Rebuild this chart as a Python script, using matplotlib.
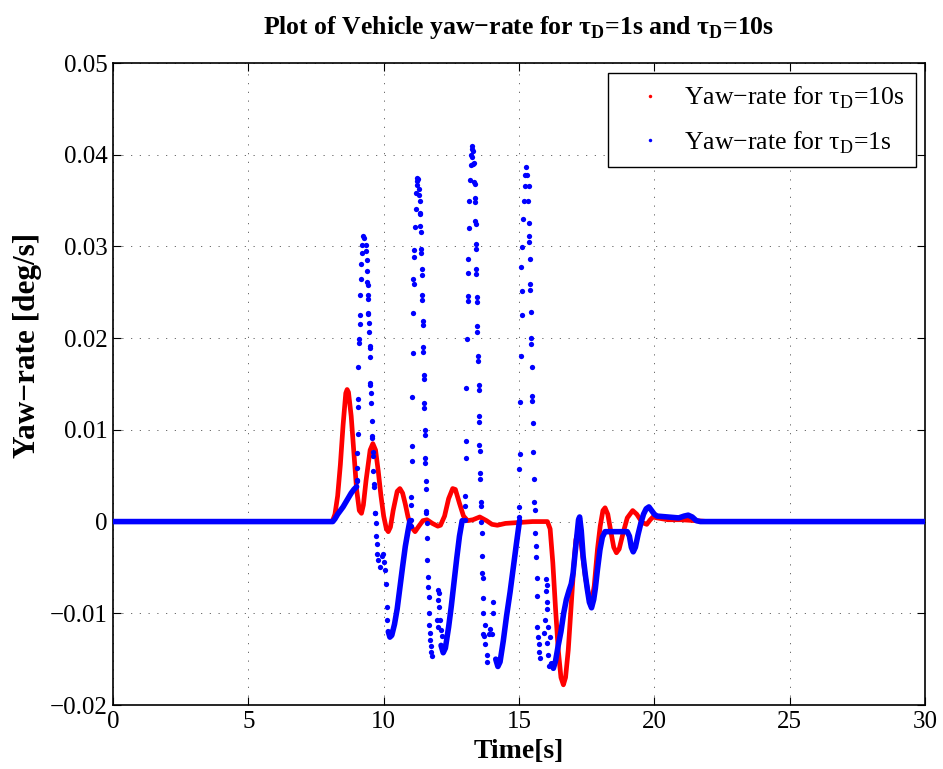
import matplotlib
matplotlib.use('Agg')
import matplotlib.pyplot as plt
from matplotlib.lines import Line2D

plt.rcParams['font.family'] = ['Liberation Serif', 'DejaVu Serif']
plt.rcParams['mathtext.fontset'] = 'custom'
plt.rcParams['mathtext.rm'] = 'Liberation Serif'
plt.rcParams['mathtext.bf'] = 'Liberation Serif:bold'

# yaw-rate for tau_D = 10 s (smooth response)
red_t = [0, 8.1, 8.2, 8.3, 8.4, 8.5, 8.6, 8.65, 8.7, 8.8, 8.9, 9.0, 9.1, 9.18, 9.25,
         9.35, 9.5, 9.6, 9.7, 9.8, 9.9, 10.0, 10.1, 10.17, 10.25, 10.35, 10.5, 10.6,
         10.7, 10.8, 10.9, 11.0, 11.16, 11.3, 11.45, 11.6, 11.8, 12.0, 12.1, 12.25,
         12.4, 12.55, 12.65, 12.8, 12.95, 13.1, 13.3, 13.55, 13.8, 14.0, 14.2, 14.5,
         15.0, 15.5, 16.05, 16.15, 16.25, 16.35, 16.45, 16.55, 16.64, 16.72, 16.82,
         16.92, 17.02, 17.1, 17.2, 17.3, 17.45, 17.6, 17.68, 17.78, 17.9, 18.0, 18.1,
         18.18, 18.28, 18.4, 18.5, 18.6, 18.7, 18.85, 19.0, 19.2, 19.35, 19.55, 19.72,
         19.85, 19.95, 20.1, 20.5, 21.0, 21.5, 22.0, 30]
red_v = [0, 0, 0.0008, 0.0028, 0.0062, 0.0105, 0.0140, 0.0144, 0.0141, 0.0115, 0.0075,
         0.0035, 0.0012, 0.0009, 0.0018, 0.0045, 0.0078, 0.0085, 0.0078, 0.0055, 0.0028,
         0.0006, -0.0008, -0.0011, -0.0006, 0.0012, 0.0033, 0.0036, 0.0031, 0.0019,
         0.0005, -0.0005, -0.0011, -0.0005, 0.0001, 0.0002, -0.0002, -0.0005, -0.0004,
         0.0006, 0.0025, 0.0036, 0.0035, 0.0020, 0.0006, 0.0001, 0.0002, 0.0005, 0.0001,
         -0.0003, -0.0004, -0.0002, -0.0001, 0.0, 0.0, -0.0008, -0.0045, -0.0095, -0.0140,
         -0.0170, -0.0178, -0.0170, -0.0140, -0.0095, -0.0050, -0.0020, -0.0009, -0.0025,
         -0.0060, -0.0085, -0.0088, -0.0070, -0.0030, -0.0005, 0.0012, 0.0015, 0.0008,
         -0.0012, -0.0028, -0.0034, -0.0030, -0.0012, 0.0004, 0.0012, 0.0008, -0.0001,
         -0.0003, 0.0002, 0.0005, 0.0004, 0.0002, 0.0002, 0.0001, 0.0, 0]

# yaw-rate for tau_D = 1 s, slowly varying parts
blue_start_t = [0, 8.12, 8.2, 8.3, 8.4, 8.5, 8.6, 8.7, 8.8, 8.9, 9.0]
blue_start_v = [0, 0, 0.0003, 0.0008, 0.0012, 0.0016, 0.0021, 0.0026, 0.0031, 0.0035, 0.0038]

blue_dip1_t = [10.17, 10.23, 10.3, 10.4, 10.5, 10.6, 10.7, 10.8, 10.9, 10.97]
blue_dip1_v = [-0.0120, -0.0126, -0.0124, -0.0112, -0.0095, -0.0072, -0.0049, -0.0027, -0.0010, 0.0001]

blue_dip2_t = [12.12, 12.2, 12.28, 12.4, 12.5, 12.6, 12.7, 12.8, 12.9]
blue_dip2_v = [-0.0135, -0.0143, -0.0138, -0.0115, -0.0092, -0.0066, -0.0040, -0.0016, 0.0001]

blue_dip3_t = [14.14, 14.22, 14.3, 14.42, 14.54, 14.67, 14.79, 14.91, 15.02]
blue_dip3_v = [-0.0150, -0.0158, -0.0153, -0.0130, -0.0103, -0.0077, -0.0050, -0.0023, 0.0001]

blue_end_t = [16.2, 16.27, 16.35, 16.45, 16.55, 16.65, 16.75, 16.85, 16.93, 17.0, 17.07,
              17.13, 17.2, 17.24, 17.3, 17.37, 17.45, 17.52, 17.6, 17.68, 17.76, 17.82,
              17.9, 17.99, 18.08, 18.18, 18.5, 19.0, 19.08, 19.15, 19.22, 19.3, 19.4,
              19.5, 19.6, 19.7, 19.8, 19.9, 20.0, 20.1, 20.5, 20.9, 21.1, 21.25, 21.4,
              21.55, 21.7, 30]
blue_end_v = [-0.0155, -0.0160, -0.0152, -0.0135, -0.0120, -0.0100, -0.0085, -0.0075,
              -0.0068, -0.0056, -0.0035, -0.0018, 0.0002, 0.0005, -0.0010, -0.0038,
              -0.0058, -0.0073, -0.0088, -0.0094, -0.0085, -0.0073, -0.0052, -0.0031,
              -0.0017, -0.0011, -0.0011, -0.0011, -0.0016, -0.0028, -0.0033, -0.0028,
              -0.0014, -0.0002, 0.0008, 0.0014, 0.0016, 0.0012, 0.0008, 0.0006, 0.0005,
              0.0004, 0.0006, 0.0007, 0.0005, 0.0001, 0.0, 0]

# yaw-rate for tau_D = 1 s, fast oscillation samples
blue_burst1_t = [9.015, 9.015, 9.03, 9.03, 9.04, 9.064, 9.064, 9.064, 9.09, 9.09, 9.11,
                 9.11, 9.126, 9.15, 9.163, 9.187, 9.21, 9.249, 9.286, 9.335, 9.335,
                 9.372, 9.384, 9.396, 9.408, 9.408, 9.408, 9.433, 9.433, 9.445, 9.445,
                 9.482, 9.482, 9.482, 9.507, 9.507, 9.52, 9.532, 9.557, 9.58, 9.58,
                 9.605, 9.605, 9.618, 9.63, 9.63, 9.68, 9.692, 9.70, 9.73, 9.74, 9.766,
                 9.803, 9.865, 9.926, 9.988, 10.01, 10.05, 10.087, 10.11, 10.136]
blue_burst1_v = [0.0045, 0.0044, 0.0058, 0.0075, 0.0096, 0.0125, 0.0134, 0.0169, 0.0195,
                 0.0199, 0.0215, 0.0225, 0.0247, 0.0265, 0.0281, 0.0293, 0.0302, 0.0311,
                 0.0309, 0.0302, 0.0295, 0.0285, 0.0273, 0.0261, 0.0258, 0.0247, 0.0243,
                 0.0227, 0.0226, 0.0217, 0.0207, 0.0191, 0.0189, 0.0179, 0.0151, 0.0149,
                 0.0140, 0.0129, 0.0110, 0.0093, 0.0091, 0.0076, 0.0072, 0.0055, 0.0041,
                 0.0038, 0.0009, 0.0009, -0.0002, -0.0016, -0.0024, -0.0035, -0.0042,
                 -0.0049, -0.0038, -0.0035, -0.0044, -0.0053, -0.0068, -0.0093, -0.0107]

blue_burst2_t = [10.998, 11.010, 11.022, 11.022, 11.034, 11.034, 11.059, 11.071, 11.096,
                 11.108, 11.096, 11.120, 11.133, 11.157, 11.182, 11.194, 11.219, 11.244,
                 11.219, 11.281, 11.293, 11.318, 11.330, 11.342, 11.355, 11.355, 11.367,
                 11.379, 11.379, 11.404, 11.404, 11.416, 11.416, 11.441, 11.441, 11.466,
                 11.466, 11.478, 11.478, 11.490, 11.490, 11.515, 11.515, 11.527, 11.527,
                 11.552, 11.552, 11.564, 11.576, 11.589, 11.589, 11.614, 11.638, 11.651,
                 11.663, 11.688, 11.688, 11.712, 11.725, 11.737, 11.762, 11.786, 11.996,
                 12.033, 11.996, 12.033, 11.959, 12.082, 11.996, 12.107, 12.144]
blue_burst2_v = [-0.0005, 0.0002, 0.0018, 0.0027, 0.0066, 0.0082, 0.0136, 0.0184, 0.0227,
                 0.0259, 0.0265, 0.0288, 0.0296, 0.0321, 0.0341, 0.0358, 0.0367, 0.0371,
                 0.0375, 0.0373, 0.0363, 0.0356, 0.0350, 0.0336, 0.0335, 0.0322, 0.0316,
                 0.0297, 0.0293, 0.0275, 0.0269, 0.0247, 0.0242, 0.0219, 0.0214, 0.0190,
                 0.0185, 0.0160, 0.0155, 0.0129, 0.0124, 0.0100, 0.0094, 0.0069, 0.0064,
                 0.0044, 0.0036, 0.0011, 0.0009, -0.0002, -0.0018, -0.0042, -0.0060,
                 -0.0071, -0.0082, -0.0100, -0.0113, -0.0122, -0.0129, -0.0136, -0.0142,
                 -0.0147, -0.0075, -0.0078, -0.0085, -0.0093, -0.0107, -0.0107, -0.0115,
                 -0.0118, -0.0125]

blue_burst3_t = [12.993, 13.005, 13.017, 13.030, 13.030, 13.054, 13.067, 13.104, 13.104,
                 13.116, 13.116, 13.141, 13.153, 13.190, 13.215, 13.239, 13.264, 13.252,
                 13.289, 13.275, 13.313, 13.338, 13.350, 13.362, 13.375, 13.375, 13.387,
                 13.399, 13.399, 13.412, 13.424, 13.424, 13.436, 13.436, 13.461, 13.461,
                 13.473, 13.473, 13.510, 13.510, 13.522, 13.522, 13.535, 13.547, 13.559,
                 13.559, 13.584, 13.584, 13.596, 13.621, 13.646, 13.646, 13.658, 13.683,
                 13.683, 13.683, 13.744, 13.720, 13.744, 13.806, 13.831, 13.905, 13.942,
                 14.003, 14.028, 14.028]
blue_burst3_v = [0.0002, 0.0017, 0.0028, 0.0069, 0.0088, 0.0146, 0.0199, 0.0240, 0.0246,
                 0.0271, 0.0286, 0.0320, 0.0349, 0.0372, 0.0389, 0.0400, 0.0397, 0.0409,
                 0.0390, 0.0406, 0.0404, 0.0391, 0.0370, 0.0368, 0.0353, 0.0348, 0.0328,
                 0.0324, 0.0303, 0.0297, 0.0275, 0.0270, 0.0245, 0.0239, 0.0213, 0.0207,
                 0.0181, 0.0175, 0.0149, 0.0143, 0.0115, 0.0109, 0.0083, 0.0077, 0.0053,
                 0.0046, 0.0021, 0.0017, 0.0000, -0.0012, -0.0037, -0.0056, -0.0062,
                 -0.0083, -0.0100, -0.0123, -0.0113, -0.0125, -0.0134, -0.0146, -0.0153,
                 -0.0123, -0.0117, -0.0123, -0.0088, -0.0100]

blue_burst4_t = [15.012, 15.012, 15.012, 15.037, 15.037, 15.074, 15.099, 15.099, 15.086,
                 15.111, 15.136, 15.173, 15.210, 15.234, 15.259, 15.308, 15.358, 15.345,
                 15.370, 15.382, 15.382, 15.407, 15.419, 15.419, 15.432, 15.444, 15.444,
                 15.469, 15.481, 15.481, 15.530, 15.530, 15.555, 15.567, 15.580, 15.604,
                 15.629, 15.629, 15.654, 15.654, 15.666, 15.703, 15.728, 15.752, 15.777,
                 15.999, 16.048, 16.011, 16.023, 16.048, 15.962, 16.060, 15.937, 16.023,
                 16.147, 16.085, 16.122]
blue_burst4_v = [0.0005, 0.0016, 0.0057, 0.0074, 0.0130, 0.0181, 0.0225, 0.0251, 0.0278,
                 0.0299, 0.0330, 0.0349, 0.0366, 0.0378, 0.0387, 0.0378, 0.0366, 0.0349,
                 0.0326, 0.0311, 0.0305, 0.0286, 0.0259, 0.0253, 0.0229, 0.0200, 0.0194,
                 0.0168, 0.0137, 0.0131, 0.0107, 0.0076, 0.0046, 0.0021, 0.0013, -0.0012,
                 -0.0027, -0.0039, -0.0061, -0.0081, -0.0115, -0.0126, -0.0134, -0.0142,
                 -0.0149, -0.0063, -0.0069, -0.0076, -0.0088, -0.0095, -0.0107, -0.0115,
                 -0.0122, -0.0132, -0.0126, -0.0145, -0.0157]

x_ticks = [0, 5, 10, 15, 20, 25, 30]
y_ticks = [-0.02, -0.01, 0, 0.01, 0.02, 0.03, 0.04, 0.05]
y_tick_labels = ['\u22120.02', '\u22120.01', '0', '0.01', '0.02', '0.03', '0.04', '0.05']

fig = plt.figure(figsize=(9.43, 7.69), dpi=100)
ax = fig.add_axes([113 / 943, 1 - 705 / 769, 812 / 943, 642 / 769])

red = (1, 0, 0)
blue = (0, 0, 1)
ax.plot(red_t, red_v, color=red, lw=3.4, solid_capstyle='round', solid_joinstyle='round', zorder=2)
for st, sv in [(blue_start_t, blue_start_v), (blue_dip1_t, blue_dip1_v),
               (blue_dip2_t, blue_dip2_v), (blue_dip3_t, blue_dip3_v),
               (blue_end_t, blue_end_v)]:
    ax.plot(st, sv, color=blue, lw=4.0, solid_capstyle='round', solid_joinstyle='round', zorder=3)
for bt, bv in [(blue_burst1_t, blue_burst1_v), (blue_burst2_t, blue_burst2_v),
               (blue_burst3_t, blue_burst3_v), (blue_burst4_t, blue_burst4_v)]:
    ax.plot(bt, bv, 'o', color=blue, ms=3.8, mew=0, zorder=3)

ax.set_xlim(0, 30)
ax.set_ylim(-0.02, 0.05)
ax.set_xticks(x_ticks)
ax.set_xticklabels([str(v) for v in x_ticks])
ax.set_yticks(y_ticks)
ax.set_yticklabels(y_tick_labels)
ax.tick_params(direction='in', top=True, right=True, length=6, width=0.8, labelsize=18, pad=4)
ax.grid(True, color='#555555', linestyle=(0, (1.5, 9)), lw=0.6)
for s in ax.spines.values():
    s.set_linewidth(1.2)

ax.set_xlabel('Time[s]', fontsize=20, fontweight='bold', labelpad=5)
ax.set_ylabel('Yaw\u2212rate [deg/s]', fontsize=22.5, fontweight='bold')
ax.yaxis.set_label_coords(-0.087, 0.56)
ax.set_title('Plot of Vehicle yaw\u2212rate for \u03c4$_\\mathregular{D}$=1s and \u03c4$_\\mathregular{D}$=10s',
             fontsize=18.5, fontweight='bold', pad=21)

handles = [Line2D([], [], marker='o', ls='none', color=red, ms=2.5, mew=0),
           Line2D([], [], marker='o', ls='none', color=blue, ms=2.5, mew=0)]
labels = ['Yaw\u2212rate for \u03c4$_\\mathregular{D}$=10s', 'Yaw\u2212rate for \u03c4$_\\mathregular{D}$=1s']
leg = ax.legend(handles, labels, loc='upper right', bbox_to_anchor=(0.989, 0.984),
                borderaxespad=0, fontsize=18.5, fancybox=False, framealpha=1,
                edgecolor='black', handlelength=2.3, handletextpad=0.2, borderpad=0.45,
                labelspacing=0.7)
leg.get_frame().set_linewidth(1.0)

fig.savefig('out.png', dpi=100)
